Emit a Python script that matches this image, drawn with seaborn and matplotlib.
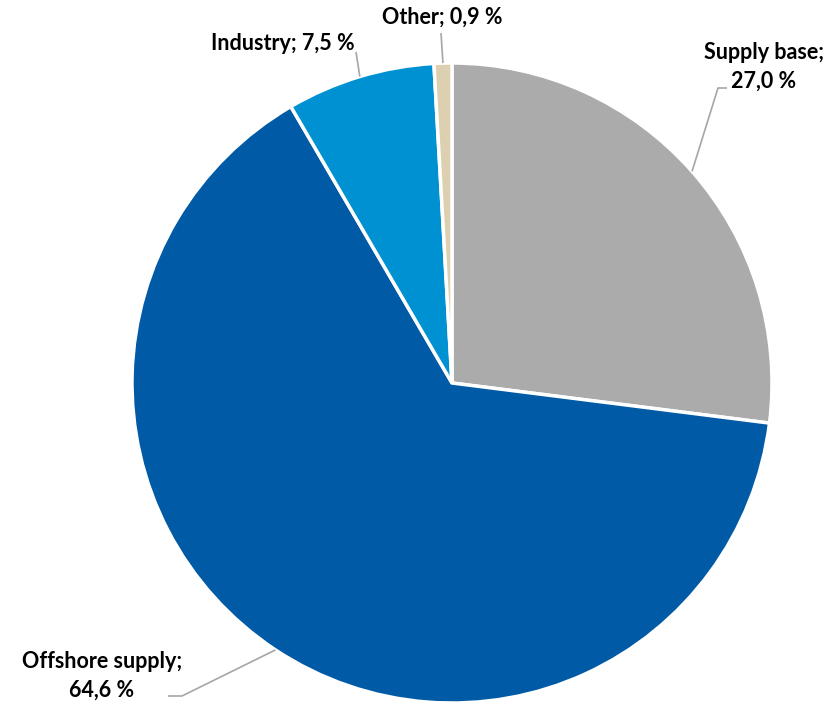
import numpy as np
import matplotlib
matplotlib.use("Agg")
import matplotlib.pyplot as plt
import seaborn as sns

# shares of the total, clockwise from 12 o'clock
categories = ["Supply base", "Offshore supply", "Industry", "Other"]
shares = [27.0, 64.6, 7.5, 0.9]
colors = ["#ABABAB", "#005AA5", "#0091D2", "#DDD0B0"]

sns.set_theme(style="white")
plt.rcParams["font.family"] = ["Lato", "DejaVu Sans"]

W, H = 840, 703
fig = plt.figure(figsize=(W / 100, H / 100), dpi=100)
ax = fig.add_axes([0, 0, 1, 1])

cx, cy, r = 452, H - 383, 320
wedges, _ = ax.pie(shares, colors=colors, startangle=90, counterclock=False,
                   center=(cx, cy), radius=r,
                   wedgeprops=dict(edgecolor="white", linewidth=2.5))
ax.set_xlim(0, W)
ax.set_ylim(0, H)
ax.set_aspect("equal")
ax.axis("off")

# label placement: text centre and elbow points of the leader line, in pixels from top-left
layout = {
    "Supply base": dict(xy=(764, 67), pts=[(718, 88), (727, 88)], two_lines=True),
    "Offshore supply": dict(xy=(102, 676), pts=[(182, 696), (168, 696)], two_lines=True),
    "Industry": dict(xy=(283, 44), pts=[(356, 52)], two_lines=False),
    "Other": dict(xy=(442, 17), pts=[(441, 33)], two_lines=False),
}

for w, name, val in zip(wedges, categories, shares):
    mid = np.deg2rad((w.theta1 + w.theta2) / 2)
    start = (cx + r * np.cos(mid), cy + r * np.sin(mid))
    spec = layout[name]
    pts = [start] + [(x, H - y) for x, y in spec["pts"]]
    xs, ys = zip(*pts)
    ax.plot(xs, ys, color="#A6A6A6", lw=1.2, solid_capstyle="butt")
    val_txt = f"{val:.1f}".replace(".", ",") + " %"
    txt = f"{name};\n{val_txt}" if spec["two_lines"] else f"{name}; {val_txt}"
    ax.text(spec["xy"][0], H - spec["xy"][1], txt, ha="center", va="center",
            fontsize=15.5, fontweight="bold", color="black", linespacing=1.45)

fig.savefig("out.png", dpi=100)
